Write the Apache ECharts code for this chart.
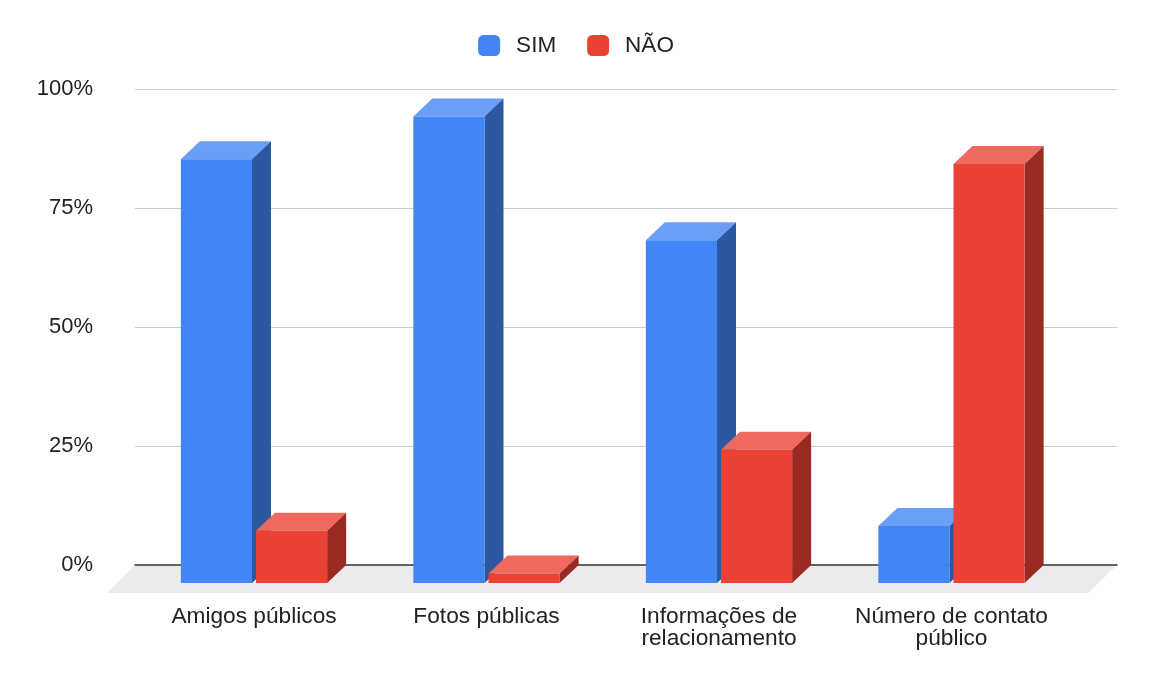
<!DOCTYPE html>
<html>
<head>
<meta charset="utf-8">
<script src="https://cdn.jsdelivr.net/npm/echarts@6/dist/echarts.min.js"></script>
<style>
html,body{margin:0;padding:0;background:#fff;}
#chart{width:1152px;height:683px;}
</style>
</head>
<body>
<div id="chart"></div>
<script>
const categories = ['Amigos públicos', 'Fotos públicas', 'Informações de\nrelacionamento', 'Número de contato\npúblico'];
const seriesNames = ['SIM', 'NÃO'];
const simValues = [89, 98, 72, 12];
const naoValues = [11, 2, 28, 88];
const yMin = 0, yMax = 100, yStep = 25;

const FONT = '"Liberation Sans", Arial, sans-serif';
const simColors = { front: '#4285F4', top: '#6a9ef7', side: '#2c58a0' };
const naoColors = { front: '#EA4335', top: '#ee695e', side: '#9a2a22' };

function makeRender(side, colors) {
  return function (params, api) {
    const idx = api.value(0), val = api.value(1);
    const topPt = api.coord([idx, val]);
    const basePt = api.coord([idx, 0]);
    const band = api.size([1, 0])[0];
    const w = band * 0.306;
    const gap = band * 0.0086;
    const x0 = side < 0 ? topPt[0] - gap - w : topPt[0] + gap;
    const x1 = x0 + w;
    const yT = topPt[1], yB = basePt[1];
    const dx = 19, dy = -18;
    return {
      type: 'group',
      children: [
        { type: 'polygon', shape: { points: [[x0, yT], [x1, yT], [x1 + dx, yT + dy], [x0 + dx, yT + dy]] }, style: { fill: colors.top } },
        { type: 'polygon', shape: { points: [[x1, yT], [x1 + dx, yT + dy], [x1 + dx, yB + dy], [x1, yB]] }, style: { fill: colors.side } },
        { type: 'rect', shape: { x: x0, y: yT, width: w, height: yB - yT }, style: { fill: colors.front } }
      ]
    };
  };
}

const chart = echarts.init(document.getElementById('chart'));
chart.setOption({
  animation: false,
  backgroundColor: '#fff',
  textStyle: { fontFamily: FONT },
  legend: {
    top: 29,
    left: 'center',
    icon: 'roundRect',
    itemWidth: 22,
    itemHeight: 21,
    itemGap: 31,
    data: seriesNames,
    textStyle: { fontSize: 22.5, color: '#222', fontFamily: FONT, padding: [0, 0, 0, 11] }
  },
  grid: [
    { left: 135, right: 35, top: 89, bottom: 118 },
    { left: 137.75, right: 84.25, top: 107, bottom: 100 }
  ],
  xAxis: [
    {
      gridIndex: 0, type: 'category', data: categories, z: 3,
      axisLine: { show: true, lineStyle: { color: '#333', width: 1.5 } },
      axisTick: { show: false }, axisLabel: { show: false }, splitLine: { show: false }
    },
    {
      gridIndex: 1, type: 'category', data: categories,
      axisLine: { show: false }, axisTick: { show: false },
      axisLabel: { margin: 23, fontSize: 22.7, lineHeight: 22, color: '#222', fontFamily: FONT, interval: 0 }
    }
  ],
  yAxis: [
    {
      gridIndex: 0, type: 'value', min: yMin, max: yMax, interval: yStep,
      axisLine: { show: false }, axisTick: { show: false },
      axisLabel: { formatter: '{value}%', margin: 42, fontSize: 22, color: '#222', fontFamily: FONT },
      splitLine: { lineStyle: { color: '#cccccc', width: 1.2 } }
    },
    {
      gridIndex: 1, type: 'value', min: yMin, max: yMax, interval: yStep,
      show: false, splitLine: { show: false }
    }
  ],
  series: [
    {
      type: 'custom', name: 'floor', xAxisIndex: 0, yAxisIndex: 0, z: 0, silent: true,
      data: [[0, 0]],
      renderItem: function (params, api) {
        const cs = params.coordSys;
        const yb = cs.y + cs.height;
        const d = 28;
        return {
          type: 'polygon',
          shape: { points: [[cs.x, yb], [cs.x + cs.width, yb], [cs.x + cs.width - d - 1, yb + d], [cs.x - d, yb + d]] },
          style: { fill: '#ebebeb' }
        };
      }
    },
    {
      type: 'custom', name: seriesNames[0], xAxisIndex: 1, yAxisIndex: 1, z: 5,
      itemStyle: { color: simColors.front },
      data: simValues.map((v, i) => [i, v]),
      encode: { x: 0, y: 1 },
      renderItem: makeRender(-1, simColors)
    },
    {
      type: 'custom', name: seriesNames[1], xAxisIndex: 1, yAxisIndex: 1, z: 5,
      itemStyle: { color: naoColors.front },
      data: naoValues.map((v, i) => [i, v]),
      encode: { x: 0, y: 1 },
      renderItem: makeRender(1, naoColors)
    }
  ]
});
</script>
</body>
</html>
